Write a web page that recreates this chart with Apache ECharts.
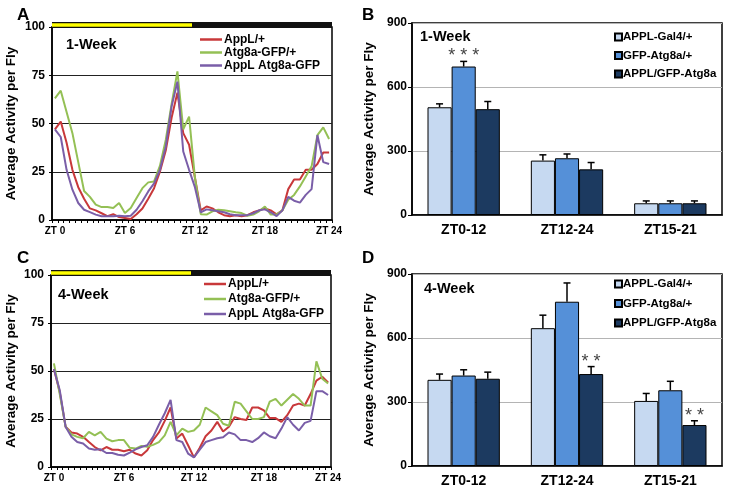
<!DOCTYPE html>
<html><head><meta charset="utf-8">
<script src="https://cdn.jsdelivr.net/npm/echarts@6/dist/echarts.min.js"></script>
<style>html,body{margin:0;padding:0;background:#fff}#c{width:736px;height:488px}</style>
</head><body><div id="c"></div>
<script>
// ---------- DATA ----------
// half-hour bins across ZT0-24 (48 bins)
const ztBins = ['0.5','1','1.5','2','2.5','3','3.5','4','4.5','5','5.5','6','6.5','7','7.5','8','8.5','9','9.5','10','10.5','11','11.5','12',
  '12.5','13','13.5','14','14.5','15','15.5','16','16.5','17','17.5','18','18.5','19','19.5','20','20.5','21','21.5','22','22.5','23','23.5','24'];
const ztTickIdx = [0, 12, 24, 36, 47];
const ztTickText = ['ZT 0', 'ZT 6', 'ZT 12', 'ZT 18', 'ZT 24'];
const lineNames = ['AppL/+', 'Atg8a-GFP/+', 'AppL Atg8a-GFP'];

// Panel A (1-week)
const aRed = [47,51,40,26,17,11,6,5,3.5,2,3,1.5,1,0.5,3,6,11,16.5,25,36,53,66,45,39,22,5,7,6,4,2.5,2,2.5,2,2.5,4,5,6,5,3,5,16,21,21,26,26,29,35,35];
const aGreen = [63,67,56,45,30,15,12,8,6.7,6.7,6.2,8.8,3.6,6.2,11.4,16.5,19.5,20,28,41.5,60,77,47,53.6,22,3,2.8,4.5,5.3,5,4.5,4,3.6,2.2,2.8,4.5,7,2.8,2.8,5,10.5,13,17.4,22.6,27.8,44,48,42];
const aPurple = [47,43,26,15.7,8.8,5.3,4.1,2.8,1.9,1.9,1.9,2.2,1.9,2.2,5.3,9.7,14.8,19,26,38,58.8,71.7,35.5,26,17,4,5.5,5,4.5,4,3,2.5,2.5,2.5,3.5,5,5.5,4,2,5,12,10,9,13,16,44,30,29];

// Panel C (4-week)
const cRed = [51,39,21,18,17.4,15.7,13,10.4,8.7,10.4,9,9,8.2,9,7,6,8.7,14,18,24,31,14.8,17.4,11.3,5,10,16,19,23.5,18.5,21,26,25,24.5,31,31,29.5,25.5,25.5,23.5,27,32,33,32,38,45,47,44];
const cGreen = [54,38,21,17,15.7,15,18.3,16.5,18.3,14.8,13.4,14,14,10,9.6,11,10.5,11.5,13,16.5,23.5,16.5,20,18.3,19,22,31,29,27,22.5,21.5,34,33,29,25,25,26,34,35.5,32,35,38,35.5,32,32,55,46,43.5];
const cPurple = [51,40,21,15.7,13,12.2,9.6,9,9.2,7.3,7.3,6.4,6,7.5,9.2,10.4,11.3,15.7,22,28,35,14,13,7,5,9,13,14,15,15.5,18,17,14,14,13,15,18,16,15,20,26,22,19,23,24,39.5,39.5,37.5];

// Bar panels
const barCats = ['ZT0-12', 'ZT12-24', 'ZT15-21'];
const barNames = ['APPL-Gal4/+', 'GFP-Atg8a/+', 'APPL/GFP-Atg8a'];
const bGal4 = [505, 255, 55],  bGal4Err = [16, 27, 11];
const bGfp  = [696, 266, 55],  bGfpErr  = [24, 20, 11];
const bAppl = [496, 214, 55],  bApplErr = [36, 32, 11];
const bSig  = [['', '', ''], ['***', '', ''], ['', '', '']];
const dGal4 = [404, 646, 305], dGal4Err = [27, 61, 35];
const dGfp  = [424, 770, 355], dGfpErr  = [27, 88, 42];
const dAppl = [409, 431, 192], dApplErr = [31, 35, 20];
const dSig  = [['', '', ''], ['', '', ''], ['', '**', '**']];

// light/dark bar (ZT hours)
const lightSpan = [[0, 101], [12, 101]];
const darkSpan = [[12, 101], [24, 101]];

// ---------- STYLE ----------
const FONT = '"Liberation Sans", Arial, sans-serif';
const lineColors = ['#c8383a', '#94c055', '#7a5ea8'];
const barColors = ['#c6d9f1', '#5590d8', '#1c3a60'];
const bold = (size) => ({fontFamily: FONT, fontWeight: 'bold', fontSize: size, color: '#000'});

const chart = echarts.init(document.getElementById('c'));

function timeXAxis(grid) {
  return {
    type: 'category', gridIndex: grid, data: ztBins, boundaryGap: true,
    axisLine: {lineStyle: {color: '#000', width: 1.5}},
    axisTick: {show: true, interval: 0, length: 3, lineStyle: {color: '#000', width: 1}},
    axisLabel: Object.assign(bold(10), {
      interval: (idx) => ztTickIdx.indexOf(idx) >= 0,
      formatter: (v, idx) => { const k = ztTickIdx.indexOf(idx); return k >= 0 ? ztTickText[k] : ''; },
      margin: 6
    }),
    splitLine: {show: false}
  };
}
function hiddenHourAxis(grid) {
  return {type: 'value', gridIndex: grid, min: 0, max: 24, show: false};
}
function barXAxis(grid) {
  return {
    type: 'category', gridIndex: grid, data: barCats,
    axisLine: {lineStyle: {color: '#000', width: 1.5}},
    axisTick: {show: false},
    axisLabel: Object.assign(bold(14), {margin: 8})
  };
}
function actYAxis(grid, gap) {
  return {
    type: 'value', gridIndex: grid, min: 0, max: 100, interval: 25,
    name: 'Average Activity per Fly', nameLocation: 'middle', nameGap: gap,
    nameTextStyle: bold(13.5),
    axisLine: {show: true, lineStyle: {color: '#000', width: 1.5}},
    axisTick: {show: true, length: 3, lineStyle: {color: '#000'}},
    axisLabel: Object.assign(bold(12), {margin: 7}),
    splitLine: {show: true, lineStyle: {color: '#222', width: 1}}
  };
}
function barYAxis(grid, gap) {
  return {
    type: 'value', gridIndex: grid, min: 0, max: 900, interval: 300,
    name: 'Average Activity per Fly', nameLocation: 'middle', nameGap: gap,
    nameTextStyle: bold(13.5),
    axisLine: {show: true, lineStyle: {color: '#000', width: 1.5}},
    axisTick: {show: true, length: 4, lineStyle: {color: '#000'}},
    axisLabel: Object.assign(bold(12), {margin: 5}),
    splitLine: {show: true, lineStyle: {color: '#b4b4b4', width: 1}}
  };
}

function lineSeries(name, data, color, xi, yi) {
  return {name, type: 'line', xAxisIndex: xi, yAxisIndex: yi, data, showSymbol: false, symbol: 'none',
    lineStyle: {color, width: 2}, itemStyle: {color}, z: 3, silent: true, animation: false};
}
function lightDark(xi, yi) {
  return [
    {type: 'line', xAxisIndex: xi, yAxisIndex: yi, data: lightSpan, symbol: 'none', clip: false, silent: true, z: 6,
     lineStyle: {color: '#111', width: 6, cap: 'butt'}, animation: false},
    {type: 'line', xAxisIndex: xi, yAxisIndex: yi, data: lightSpan, symbol: 'none', clip: false, silent: true, z: 7,
     lineStyle: {color: '#ffff00', width: 3.5, cap: 'butt'}, animation: false},
    {type: 'line', xAxisIndex: xi, yAxisIndex: yi, data: darkSpan, symbol: 'none', clip: false, silent: true, z: 6,
     lineStyle: {color: '#111', width: 6, cap: 'butt'}, animation: false}
  ];
}
function barSeries(name, data, color, xi, yi) {
  return {name, type: 'bar', xAxisIndex: xi, yAxisIndex: yi, data, barGap: '0%', barCategoryGap: '30%',
    itemStyle: {color, borderColor: '#000', borderWidth: 1}, silent: true, animation: false, z: 2};
}
function errSeries(xi, yi, vals, errs, k, sig) {
  return {
    type: 'custom', xAxisIndex: xi, yAxisIndex: yi, z: 5, silent: true, animation: false,
    data: vals.map((v, i) => [i, v, v + errs[i]]),
    renderItem(params, api) {
      const i = api.value(0);
      const base = api.coord([i, api.value(1)]);
      const tp = api.coord([i, api.value(2)]);
      const band = api.size([1, 0])[0];
      const bw = band * 0.7 / 3;
      const cx = base[0] + (k - 1) * bw;
      const ch = [
        {type: 'line', shape: {x1: cx, y1: base[1], x2: cx, y2: tp[1]}, style: {stroke: '#000', lineWidth: 1.5}},
        {type: 'line', shape: {x1: cx - 3.5, y1: tp[1], x2: cx + 3.5, y2: tp[1]}, style: {stroke: '#000', lineWidth: 1.5}}
      ];
      const s = sig[params.dataIndex];
      if (s) ch.push({type: 'text', x: cx, y: tp[1] + 4,
        style: {text: s.split('').join(' '), fill: '#444', font: '18px ' + FONT, align: 'center', verticalAlign: 'bottom'}});
      return {type: 'group', children: ch};
    }
  };
}

const gridBase = {show: true, borderColor: '#000', borderWidth: 1.5, backgroundColor: '#fff', containLabel: false};

const option = {
  animation: false,
  backgroundColor: '#fff',
  textStyle: {fontFamily: FONT},
  title: [
    {text: 'A', left: 12, top: 2, textStyle: bold(17)},
    {text: 'B', left: 357, top: 2, textStyle: bold(17)},
    {text: 'C', left: 12, top: 245, textStyle: bold(17)},
    {text: 'D', left: 357, top: 245, textStyle: bold(17)},
    {text: '1-Week', left: 61, top: 32, textStyle: bold(14.5)},
    {text: '1-Week', left: 415, top: 24, textStyle: bold(14.5)},
    {text: '4-Week', left: 53, top: 282, textStyle: bold(14.5)},
    {text: '4-Week', left: 419, top: 276, textStyle: bold(14.5)}
  ],
  grid: [
    Object.assign({left: 52, top: 27, width: 280, height: 193}, gridBase),
    Object.assign({left: 412, top: 23, width: 310, height: 192}, gridBase),
    Object.assign({left: 51, top: 275, width: 280, height: 192}, gridBase),
    Object.assign({left: 412, top: 274, width: 310, height: 195}, gridBase)
  ],
  legend: [
    {data: lineNames, orient: 'vertical', left: 195, top: 28, itemGap: 0, icon: 'rect', itemWidth: 22, itemHeight: 2.5,
     textStyle: Object.assign(bold(12), {lineHeight: 13, padding: [0, 0, 0, -3]}), selectedMode: false},
    {data: lineNames, orient: 'vertical', left: 199, top: 272, itemGap: 1, icon: 'rect', itemWidth: 22, itemHeight: 2.5,
     textStyle: Object.assign(bold(12), {lineHeight: 14, padding: [0, 0, 0, -3]}), selectedMode: false},
    {data: barNames, orient: 'vertical', left: 609, top: 25, itemGap: 4.5, icon: 'rect', itemWidth: 7, itemHeight: 7,
     textStyle: Object.assign(bold(11.5), {lineHeight: 14, padding: [0, 0, 0, -4]}), selectedMode: false},
    {data: barNames, orient: 'vertical', left: 609, top: 272, itemGap: 5.5, icon: 'rect', itemWidth: 7, itemHeight: 7,
     textStyle: Object.assign(bold(11.5), {lineHeight: 14, padding: [0, 0, 0, -4]}), selectedMode: false}
  ],
  xAxis: [timeXAxis(0), hiddenHourAxis(0), barXAxis(1), timeXAxis(2), hiddenHourAxis(2), barXAxis(3)],
  yAxis: [actYAxis(0, 34), barYAxis(1, 36), actYAxis(2, 33), barYAxis(3, 36)],
  series: [
    lineSeries(lineNames[0], aRed, lineColors[0], 0, 0),
    lineSeries(lineNames[1], aGreen, lineColors[1], 0, 0),
    lineSeries(lineNames[2], aPurple, lineColors[2], 0, 0),
    ...lightDark(1, 0),
    lineSeries(lineNames[0], cRed, lineColors[0], 3, 2),
    lineSeries(lineNames[1], cGreen, lineColors[1], 3, 2),
    lineSeries(lineNames[2], cPurple, lineColors[2], 3, 2),
    ...lightDark(4, 2),
    barSeries(barNames[0], bGal4, barColors[0], 2, 1),
    barSeries(barNames[1], bGfp, barColors[1], 2, 1),
    barSeries(barNames[2], bAppl, barColors[2], 2, 1),
    errSeries(2, 1, bGal4, bGal4Err, 0, bSig[0]),
    errSeries(2, 1, bGfp, bGfpErr, 1, bSig[1]),
    errSeries(2, 1, bAppl, bApplErr, 2, bSig[2]),
    barSeries(barNames[0], dGal4, barColors[0], 5, 3),
    barSeries(barNames[1], dGfp, barColors[1], 5, 3),
    barSeries(barNames[2], dAppl, barColors[2], 5, 3),
    errSeries(5, 3, dGal4, dGal4Err, 0, dSig[0]),
    errSeries(5, 3, dGfp, dGfpErr, 1, dSig[1]),
    errSeries(5, 3, dAppl, dApplErr, 2, dSig[2])
  ]
};
chart.setOption(option);
</script></body></html>
